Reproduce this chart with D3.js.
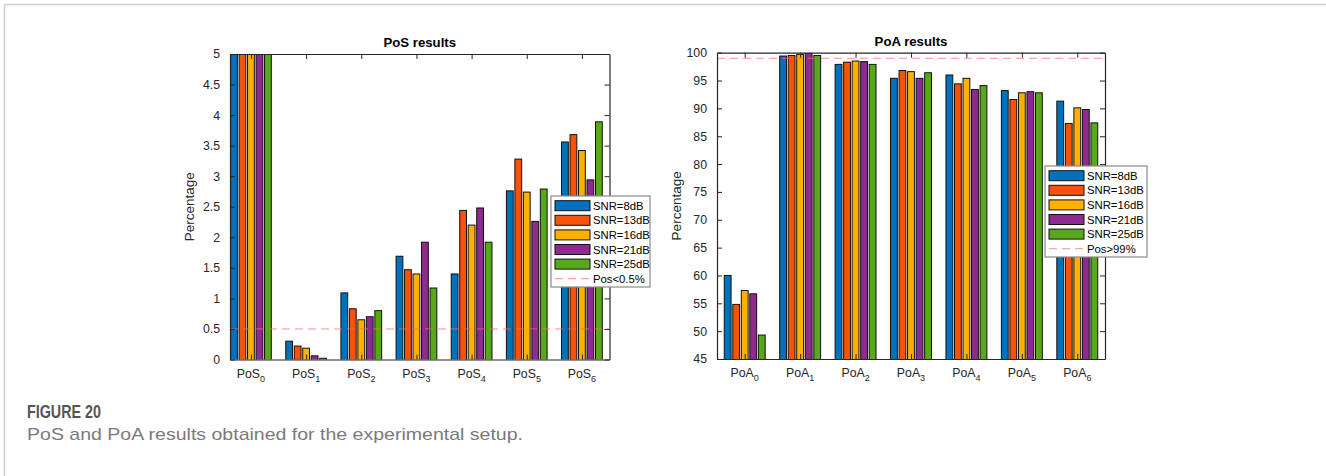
<!DOCTYPE html>
<html><head><meta charset="utf-8">
<script src="https://cdn.jsdelivr.net/npm/d3@7"></script>
<style>
body{margin:0;background:#fff}
svg{display:block}
text{font-family:"Liberation Sans",Arial,Helvetica,sans-serif}
</style>
</head><body>
<svg id="c" width="1326" height="476"></svg>
<script>
// ---------- data ----------
const snrLabels = ["SNR=8dB", "SNR=13dB", "SNR=16dB", "SNR=21dB", "SNR=25dB"];
const seriesColors = ["#0072BD", "#F5520A", "#FFB000", "#8E2B8E", "#58A81C"];
const categoryIndex = ["0", "1", "2", "3", "4", "5", "6"];

const posSNR8  = [5.0, 0.30, 1.09, 1.69, 1.40, 2.76, 3.56];
const posSNR13 = [5.0, 0.22, 0.83, 1.47, 2.44, 3.28, 3.68];
const posSNR16 = [5.0, 0.185, 0.65, 1.40, 2.20, 2.74, 3.42];
const posSNR21 = [5.0, 0.06, 0.70, 1.92, 2.48, 2.26, 2.94];
const posSNR25 = [5.0, 0.02, 0.80, 1.17, 1.92, 2.79, 3.89];

const poaSNR8  = [60.0, 99.4, 97.9, 95.4, 96.0, 93.2, 91.3];
const poaSNR13 = [54.8, 99.5, 98.3, 96.8, 94.4, 91.6, 87.3];
const poaSNR16 = [57.3, 99.7, 98.5, 96.6, 95.4, 92.8, 90.1];
const poaSNR21 = [56.7, 99.9, 98.4, 95.4, 93.4, 93.0, 89.8];
const poaSNR25 = [49.3, 99.5, 97.9, 96.4, 94.1, 92.8, 87.4];

const posYTicks = [0, 0.5, 1, 1.5, 2, 2.5, 3, 3.5, 4, 4.5, 5];
const poaYTicks = [45, 50, 55, 60, 65, 70, 75, 80, 85, 90, 95, 100];
const posThreshold = 0.5, posThresholdLabel = "Pos<0.5%";
const poaThreshold = 99,  poaThresholdLabel = "Pos>99%";

// ---------- drawing ----------
const svg = d3.select("#c");
const defs = svg.append("defs");

svg.append("path").attr("d", "M4.5,476 V4.5 H1326").attr("fill", "none")
  .attr("stroke", "#cfcfcf").attr("stroke-width", 1.5);

function drawChart(cfg) {
  const x = d3.scaleLinear().domain(cfg.xDomain).range([cfg.x0, cfg.x1]);
  const y = d3.scaleLinear().domain(cfg.yDomain).range([cfg.y1, cfg.y0]);
  const g = svg.append("g");
  const clipId = "clip" + cfg.id;
  defs.append("clipPath").attr("id", clipId).append("rect")
    .attr("x", cfg.x0).attr("y", cfg.y0).attr("width", cfg.x1 - cfg.x0).attr("height", cfg.y1 - cfg.y0);

  const nS = cfg.series.length;
  const pitch = Math.min(0.8, nS / (nS + 1.5)) / nS;
  const bw = pitch * 0.8;
  const barsG = g.append("g").attr("clip-path", `url(#${clipId})`);
  cfg.series.forEach((vals, s) => {
    barsG.selectAll(null).data(vals).enter().append("rect")
      .attr("x", (d, i) => x(i + 1 + (s - (nS - 1) / 2) * pitch - bw / 2))
      .attr("width", (d, i) => x(bw) - x(0))
      .attr("y", d => y(d))
      .attr("height", d => y(cfg.yDomain[0]) - y(d) + 2)
      .attr("fill", seriesColors[s])
      .attr("stroke", "#111").attr("stroke-width", 1);
  });

  barsG.append("line")
    .attr("x1", cfg.x0).attr("x2", cfg.x1)
    .attr("y1", y(cfg.threshold)).attr("y2", y(cfg.threshold))
    .attr("stroke", "#FF6A6A").attr("stroke-opacity", 0.75).attr("stroke-width", 1)
    .attr("stroke-dasharray", "8,5");

  const cats = categoryIndex.map((c, i) => i + 1);
  const axCol = "#262626";
  const left = g.append("g").attr("transform", `translate(${cfg.x0},0)`)
    .call(d3.axisLeft(y).tickValues(cfg.yTicks).tickSize(-5).tickSizeOuter(0).tickPadding(10).tickFormat(d => String(d)));
  const right = g.append("g").attr("transform", `translate(${cfg.x1},0)`)
    .call(d3.axisRight(y).tickValues(cfg.yTicks).tickSize(-5).tickSizeOuter(0).tickFormat(""));
  const bottom = g.append("g").attr("transform", `translate(0,${cfg.y1})`)
    .call(d3.axisBottom(x).tickValues(cats).tickSize(-5).tickSizeOuter(0).tickFormat(""));
  const top = g.append("g").attr("transform", `translate(0,${cfg.y0})`)
    .call(d3.axisTop(x).tickValues(cats).tickSize(-5).tickSizeOuter(0).tickFormat(""));
  [left, right, bottom, top].forEach(a => {
    a.selectAll("path.domain").attr("stroke", axCol).attr("stroke-width", 1.2);
    a.selectAll(".tick line").attr("stroke", axCol).attr("stroke-width", 1);
    a.selectAll("text").attr("fill", axCol).attr("font-size", 12.3)
      .attr("font-family", '"Liberation Sans",Arial,sans-serif');
  });

  const lab = g.append("g");
  categoryIndex.forEach((c, i) => {
    const t = lab.append("text").attr("x", x(i + 1)).attr("y", cfg.y1 + 18)
      .attr("text-anchor", "middle").attr("fill", axCol).attr("font-size", 12.3);
    t.append("tspan").text(cfg.prefix);
    t.append("tspan").attr("dy", 4).attr("font-size", 9).text(c);
  });

  g.append("text").attr("x", (cfg.x0 + cfg.x1) / 2).attr("y", cfg.y0 - 7)
    .attr("text-anchor", "middle").attr("font-weight", "bold").attr("font-size", 13.2)
    .attr("fill", "#000").text(cfg.title);

  g.append("text").attr("transform", `translate(${cfg.x0 - 36},${(cfg.y0 + cfg.y1) / 2}) rotate(-90)`)
    .attr("text-anchor", "middle").attr("font-size", 13.5).attr("fill", axCol).text("Percentage");

  const L = cfg.legend;
  const lg = g.append("g");
  lg.append("rect").attr("x", L.x).attr("y", L.y).attr("width", L.w).attr("height", L.h)
    .attr("fill", "#fff").attr("stroke", "#8a8a8a").attr("stroke-width", 1.2);
  const rowH = 14.6;
  snrLabels.forEach((s, k) => {
    const cy = L.y + 9.7 + k * rowH;
    lg.append("rect").attr("x", L.x + 4).attr("y", cy - 5).attr("width", 35).attr("height", 10)
      .attr("fill", seriesColors[k]).attr("stroke", "#111").attr("stroke-width", 1);
    lg.append("text").attr("x", L.x + 42).attr("y", cy + 4).attr("font-size", 11.3)
      .attr("fill", "#000").text(s);
  });
  const cy = L.y + 9.7 + 5 * rowH;
  lg.append("line").attr("x1", L.x + 4).attr("x2", L.x + 39).attr("y1", cy).attr("y2", cy)
    .attr("stroke", "#FF6A6A").attr("stroke-opacity", 0.75).attr("stroke-dasharray", "8,5");
  lg.append("text").attr("x", L.x + 42).attr("y", cy + 4).attr("font-size", 11.3)
    .attr("fill", "#000").text(cfg.thresholdLabel);
}

drawChart({
  id: "pos", x0: 230, x1: 609.5, y0: 54, y1: 359.5,
  xDomain: [0.62, 7.5], yDomain: [0, 5], yTicks: posYTicks,
  series: [posSNR8, posSNR13, posSNR16, posSNR21, posSNR25],
  threshold: posThreshold, thresholdLabel: posThresholdLabel,
  prefix: "PoS", title: "PoS results",
  legend: { x: 551, y: 196, w: 99, h: 91 }
});
drawChart({
  id: "poa", x0: 717, x1: 1105, y0: 52.7, y1: 359,
  xDomain: [0.5, 7.5], yDomain: [45, 100], yTicks: poaYTicks,
  series: [poaSNR8, poaSNR13, poaSNR16, poaSNR21, poaSNR25],
  threshold: poaThreshold, thresholdLabel: poaThresholdLabel,
  prefix: "PoA", title: "PoA results",
  legend: { x: 1045, y: 166, w: 102, h: 91 }
});

// caption
svg.append("text").attr("x", 27).attr("y", 418).attr("font-family", "'Open Sans', Lato, sans-serif")
  .attr("font-weight", "bold").attr("font-size", 17.5).attr("fill", "#555")
  .attr("textLength", 74).attr("lengthAdjust", "spacingAndGlyphs").text("FIGURE 20");
svg.append("text").attr("x", 27).attr("y", 440).attr("font-family", "'Open Sans', Lato, sans-serif")
  .attr("font-size", 17).attr("fill", "#7a7a7a")
  .attr("textLength", 496).attr("lengthAdjust", "spacingAndGlyphs")
  .text("PoS and PoA results obtained for the experimental setup.");
</script>
</body></html>
